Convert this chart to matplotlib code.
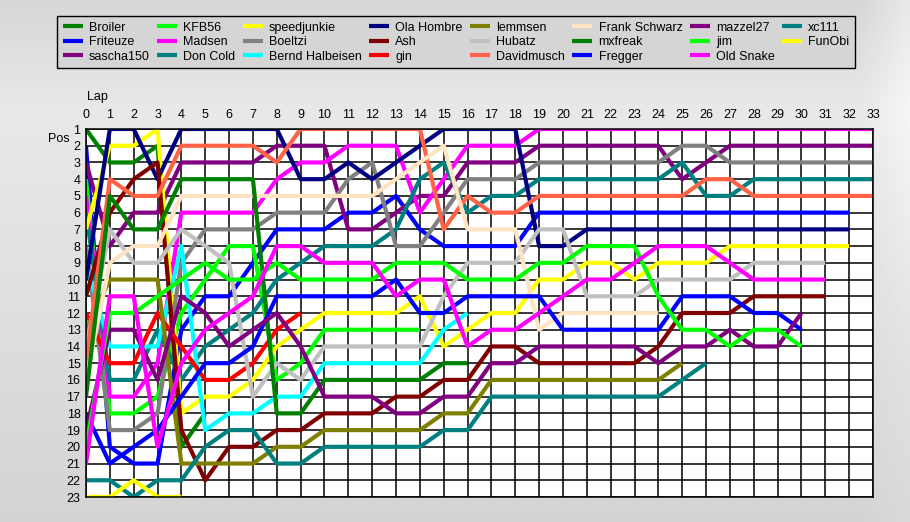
import matplotlib.pyplot as plt
import numpy as np

plt.rcParams['font.family'] = ['Liberation Sans', 'DejaVu Sans']

# race positions per lap, starting at lap 0 (grid) until the last lap driven
broiler = [1, 3, 3, 2, 20, 18]
friteuze = [2, 20, 21, 21, 13, 11, 11, 9, 7, 7, 7, 6, 6, 5, 7, 8, 8, 8, 8] + [6] * 14
sascha150 = [3, 8, 6, 6, 3, 3, 3, 3, 2, 2, 2, 7, 7, 6, 5, 5, 3, 3, 3] + [2] * 6 + [4, 3] + [2] * 7
kfb56 = [4, 18, 18, 17, 12, 10, 8, 8, 16, 15, 13, 13, 13, 13, 13]
madsen = [5, 17, 17, 15, 6, 6, 6, 6, 4, 3, 3, 2, 2, 2, 6, 4, 2, 2, 2] + [1] * 15
don_cold = [6, 16, 16, 13, 16, 14, 13, 12, 10, 9, 8, 8, 8, 7, 4, 3, 6, 5, 5] + [4] * 6 + [3, 5, 5] + [4] * 6
speedjunkie = [7, 2, 2, 1, 18, 17, 17, 16, 14, 13, 12, 12, 12, 12, 11, 14, 13, 12, 12, 10, 10,
               9, 9, 10, 9, 9, 9, 8, 8, 8, 8, 8, 8]
boeltzi = [8, 19, 19, 18, 9, 7, 7, 7, 6, 6, 6, 4, 3, 8, 8, 6, 4, 4, 4] + [3] * 6 + [2, 2] + [3] * 7
bernd = [9, 14, 14, 14, 8, 19, 18, 18, 17, 17, 15, 15, 15, 15, 15, 13, 12]
ola_hombre = [10, 1, 1, 4, 1, 1, 1, 1, 1, 4, 4, 3, 4, 3, 2, 1, 1, 1, 1, 8, 8] + [7] * 12
ash = [11, 6, 4, 3, 19, 22, 20, 20, 19, 19, 18, 18, 18, 17, 17, 16, 16, 14, 14, 15, 15, 15, 15, 15,
       14, 12, 12, 12, 11, 11, 11, 11]
gin = [12, 15, 15, 12, 14, 16, 16, 15, 13, 12]
lemmsen = [13, 10, 10, 10, 21, 21, 21, 21, 20, 20, 19, 19, 19, 19, 19, 18, 18] + [16] * 8 + [15]
hubatz = [14, 7, 9, 9, 7, 8, 9, 17, 15, 16, 14, 14, 14, 14, 14, 11, 9, 9, 9, 7, 7, 11, 11, 11,
          10, 10, 10, 10, 9, 9, 9, 9]
davidmusch = [15, 4, 5, 5, 2, 2, 2, 2, 3, 1, 1, 1, 1, 1, 1, 7, 5, 6, 6] + [5] * 7 + [4, 4] + [5] * 6
frank_schwarz = [16, 9, 8, 8, 5, 5, 5, 5, 5, 5, 5, 5, 5, 4, 3, 2, 7, 7, 7, 13, 12, 12, 12, 12, 12]
mxfreak = [17, 5, 7, 7, 4, 4, 4, 4, 18, 18, 16, 16, 16, 16, 16, 15, 15]
fregger = [18, 21, 20, 19, 17, 15, 15, 14, 11, 11, 11, 11, 11, 10, 12, 12, 11, 11, 11, 11,
           13, 13, 13, 13, 13, 11, 11, 11, 12, 12, 13]
mazzel27 = [19, 13, 13, 16, 11, 12, 14, 13, 12, 14, 17, 17, 17, 18, 18, 17, 17, 15, 15,
            14, 14, 14, 14, 14, 15, 14, 14, 13, 14, 14, 12]
jim = [20, 12, 12, 11, 10, 9, 10, 10, 9, 10, 10, 10, 10, 9, 9, 9, 10, 10, 10, 9, 9, 8, 8, 8,
       11, 13, 13, 14, 13, 13, 14]
old_snake = [21, 11, 11, 20, 15, 13, 12, 11, 8, 8, 9, 9, 9, 11, 10, 10, 14, 13, 13, 12, 11, 10, 10,
             9, 8, 8, 8, 9, 10, 10, 10, 10]
xc111 = [22, 22, 23, 22, 22, 20, 19, 19, 21, 21, 20, 20, 20, 20, 20, 19, 19, 17, 17, 17, 17, 17,
         17, 17, 17, 16, 15]
funobi = [23, 23, 22, 23, 23]

# legend order (column by column, 3 rows)
names = ["Broiler", "Friteuze", "sascha150", "KFB56", "Madsen", "Don Cold", "speedjunkie",
         "Boeltzi", "Bernd Halbeisen", "Ola Hombre", "Ash", "gin", "lemmsen", "Hubatz",
         "Davidmusch", "Frank Schwarz", "mxfreak", "Fregger", "mazzel27", "jim", "Old Snake",
         "xc111", "FunObi"]
series = [broiler, friteuze, sascha150, kfb56, madsen, don_cold, speedjunkie, boeltzi, bernd,
          ola_hombre, ash, gin, lemmsen, hubatz, davidmusch, frank_schwarz, mxfreak, fregger,
          mazzel27, jim, old_snake, xc111, funobi]
colors = ["#008000", "#0000ff", "#800080", "#00ff00", "#ff00ff", "#008080", "#ffff00",
          "#808080", "#00ffff", "#000080", "#800000", "#ff0000", "#808000", "#c0c0c0",
          "#ff6347", "#ffe4c4", "#008000", "#0000ff", "#800080", "#00ff00", "#ff00ff",
          "#008080", "#ffff00"]

W, H = 910, 522
fig = plt.figure(figsize=(W / 100, H / 100), dpi=100)

# soft grey gradient behind everything
bg = fig.add_axes([0, 0, 1, 1], zorder=-10)
yy, xx = np.mgrid[0:H, 0:W]
shade = np.interp(yy, [0, 110, H], [0.84, 0.91, 0.83])
shade = shade + 0.07 * np.clip((xx - 860) / 50, 0, 1) * np.clip(1 - yy / H, 0.3, 1)
bg.imshow(np.clip(shade, 0, 1), cmap="gray", vmin=0, vmax=1, aspect="auto")
bg.axis("off")

ax = fig.add_axes([86 / W, 1 - 497 / H, (873 - 86) / W, (497 - 129) / H])
ax.set_facecolor("white")
for name, col, pos in zip(names, colors, series):
    ax.plot(range(len(pos)), pos, color=col, lw=3, label=name, solid_capstyle="butt")

ax.set_xlim(0, 33)
ax.set_ylim(23, 1)
ax.set_xticks(range(0, 34))
ax.set_yticks(range(1, 24))
ax.xaxis.tick_top()
ax.tick_params(length=0, labelsize=9)
ax.tick_params(axis="x", pad=6)
ax.tick_params(axis="y", pad=4)
ax.grid(True, color="black", lw=1.1)
ax.set_axisbelow(True)
for s in ax.spines.values():
    s.set_color("black")
    s.set_linewidth(1.1)

fig.text(87 / W, 1 - 97 / H, "Lap", fontsize=9, ha="left", va="center")
fig.text(70 / W, 1 - 139 / H, "Pos", fontsize=9, ha="right", va="center")

leg = fig.legend(ncol=8, loc="upper left",
                 bbox_to_anchor=(57 / W, 1 - 70 / H, (855 - 57) / W, (70 - 16) / H),
                 mode="expand", fancybox=False, edgecolor="black", facecolor="#d5d5d5",
                 framealpha=1, fontsize=9, handlelength=1.6, handletextpad=0.5,
                 labelspacing=0.2, borderpad=0.45, borderaxespad=0)
leg.get_frame().set_linewidth(1.0)

fig.savefig("out.png", dpi=100)
